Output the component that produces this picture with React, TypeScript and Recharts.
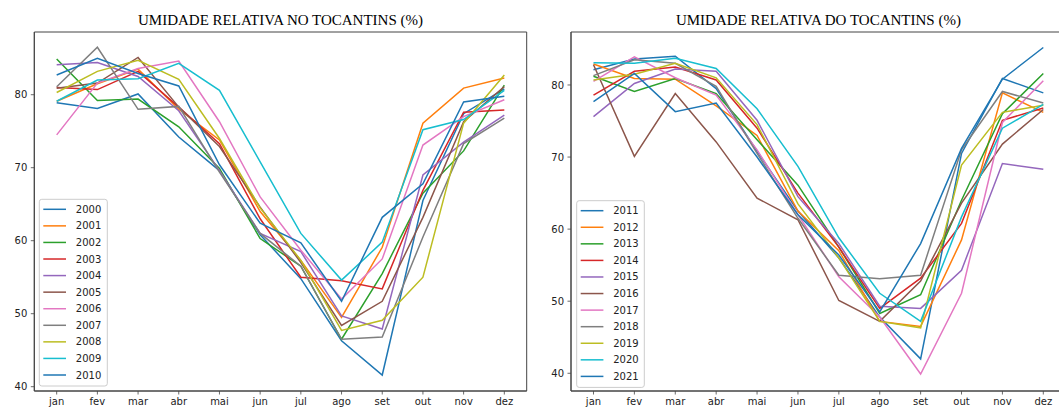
import React from "react";
import { LineChart, Line, XAxis, YAxis, ReferenceArea } from "recharts";

const months = ["jan", "fev", "mar", "abr", "mai", "jun", "jul", "ago", "set", "out", "nov", "dez"];
const palette = ["#1f77b4", "#ff7f0e", "#2ca02c", "#d62728", "#9467bd", "#8c564b", "#e377c2", "#7f7f7f", "#bcbd22", "#17becf", "#1f77b4"];

const leftTitle = "UMIDADE RELATIVA NO TOCANTINS (%)";
const rightTitle = "UMIDADE RELATIVA DO TOCANTINS (%)";
const yTicks = [40, 50, 60, 70, 80];

const leftYears = ["2000", "2001", "2002", "2003", "2004", "2005", "2006", "2007", "2008", "2009", "2010"];
const y2000 = [78.9, 78.1, 80.1, 74.2, 69.6, 60.8, 54.8, 46.3, 41.6, 65.5, 77.4, 80.8];
const y2001 = [79.1, 81.5, 83.5, 78.0, 73.8, 64.0, 57.3, 49.5, 59.1, 76.1, 80.9, 82.3];
const y2002 = [84.9, 79.2, 79.4, 75.6, 69.9, 60.3, 56.5, 46.5, 55.5, 66.5, 72.3, 81.3];
const y2003 = [81.0, 80.7, 83.2, 78.3, 73.3, 63.0, 55.0, 54.5, 53.4, 66.9, 77.6, 77.9];
const y2004 = [84.1, 84.4, 82.5, 77.8, 69.6, 61.0, 58.5, 49.7, 47.9, 69.0, 73.5, 77.2];
const y2005 = [80.9, 81.6, 85.1, 78.3, 72.9, 64.6, 57.0, 48.4, 51.7, 63.2, 76.3, 81.1];
const y2006 = [74.5, 81.6, 83.6, 84.6, 76.3, 66.0, 58.7, 52.0, 57.5, 73.1, 77.0, 79.3];
const y2007 = [81.1, 86.5, 78.0, 78.4, 69.4, 61.0, 56.5, 46.5, 46.8, 60.5, 73.3, 76.8];
const y2008 = [80.3, 83.2, 84.7, 82.1, 74.0, 64.5, 57.3, 47.7, 49.1, 55.0, 76.1, 82.7];
const y2009 = [79.1, 82.0, 82.2, 84.3, 80.6, 70.8, 61.0, 54.6, 59.8, 75.2, 76.6, 80.6];
const y2010 = [82.7, 85.0, 82.9, 81.2, 70.4, 62.4, 59.7, 51.7, 63.2, 67.8, 79.0, 79.8];
const leftSeries = [y2000, y2001, y2002, y2003, y2004, y2005, y2006, y2007, y2008, y2009, y2010];

const rightYears = ["2011", "2012", "2013", "2014", "2015", "2016", "2017", "2018", "2019", "2020", "2021"];
const y2011 = [82.1, 83.6, 84.0, 79.5, 70.8, 62.5, 56.0, 47.8, 42.0, 70.5, 80.9, 78.9];
const y2012 = [82.9, 80.9, 80.8, 77.1, 73.0, 62.5, 57.0, 47.2, 46.5, 58.5, 78.9, 76.2];
const y2013 = [81.2, 79.1, 80.9, 78.8, 72.4, 66.1, 57.5, 48.3, 50.9, 64.0, 76.0, 81.6];
const y2014 = [78.6, 81.9, 82.5, 80.7, 74.0, 65.0, 57.5, 49.0, 53.2, 60.8, 75.1, 76.8];
const y2015 = [75.6, 80.2, 82.2, 81.9, 75.1, 64.5, 58.0, 49.3, 49.0, 54.3, 69.1, 68.3];
const y2016 = [82.8, 70.1, 78.8, 72.1, 64.3, 61.3, 50.1, 47.2, 52.8, 63.6, 71.8, 76.6];
const y2017 = [80.5, 83.9, 81.0, 78.6, 71.0, 62.0, 53.4, 47.8, 39.9, 51.1, 74.8, 80.6];
const y2018 = [81.3, 83.5, 83.0, 79.8, 70.5, 61.5, 53.6, 53.1, 53.6, 71.0, 79.1, 77.5];
const y2019 = [80.7, 81.5, 83.0, 81.0, 74.5, 63.5, 56.0, 47.2, 46.3, 68.9, 76.2, 77.2];
const y2020 = [83.1, 83.0, 83.7, 82.3, 76.7, 68.7, 58.8, 51.1, 47.2, 61.7, 74.0, 77.3];
const y2021 = [77.7, 81.6, 76.3, 77.5, 70.0, 62.0, 56.4, 48.5, 58.0, 71.2, 80.8, 85.2];
const rightSeries = [y2011, y2012, y2013, y2014, y2015, y2016, y2017, y2018, y2019, y2020, y2021];

const monthIdx = months.map((_, i) => i);
const xDomain: [number, number] = [-0.55, 11.55];
const spine = "#444";
const tickFont = { fill: "#222", fontSize: 10, fontFamily: "DejaVu Sans" };

type PanelProps = {
  left: number;
  width: number;
  yAxisWidth: number;
  marginRight: number;
  yDomain: [number, number];
  years: string[];
  series: number[][];
};

function Panel({ left, width, yAxisWidth, marginRight, yDomain, years, series }: PanelProps) {
  const data = months.map((m, i) => {
    const row: Record<string, number | string> = { i, m };
    years.forEach((y, k) => {
      row[y] = series[k][i];
    });
    return row;
  });
  return (
    <div style={{ position: "absolute", left, top: 0 }}>
      <LineChart width={width} height={410} data={data} margin={{ top: 32, right: marginRight, bottom: 0, left: 0 }}>
        <XAxis
          dataKey="i"
          type="number"
          domain={xDomain}
          ticks={monthIdx}
          interval={0}
          allowDataOverflow
          tickFormatter={(v: number) => months[v]}
          height={19}
          tickSize={3.5}
          tickMargin={3.5}
          axisLine={{ stroke: spine, strokeWidth: 1 }}
          tickLine={{ stroke: spine, strokeWidth: 0.8 }}
          tick={tickFont}
        />
        <YAxis
          type="number"
          domain={yDomain}
          allowDataOverflow
          ticks={yTicks}
          interval={0}
          width={yAxisWidth}
          tickSize={3.5}
          tickMargin={3.5}
          axisLine={{ stroke: spine, strokeWidth: 1 }}
          tickLine={{ stroke: spine, strokeWidth: 0.8 }}
          tick={tickFont}
        />
        <ReferenceArea
          x1={xDomain[0]}
          x2={xDomain[1]}
          y1={yDomain[0]}
          y2={yDomain[1]}
          fill="none"
          fillOpacity={0}
          stroke={spine}
          strokeWidth={1}
          ifOverflow="visible"
        />
        {years.map((y, k) => (
          <Line
            key={y}
            dataKey={y}
            type="linear"
            stroke={palette[k]}
            strokeWidth={1.5}
            dot={false}
            activeDot={false}
            isAnimationActive={false}
          />
        ))}
      </LineChart>
    </div>
  );
}

function LegendBox({ x, y, w, years }: { x: number; y: number; w: number; years: string[] }) {
  const rowH = 16.57;
  const h = 186.7;
  return (
    <g>
      <rect x={x} y={y} width={w} height={h} rx={2.5} ry={2.5} fill="#fff" fillOpacity={0.8} stroke="#cccccc" strokeWidth={1} />
      {years.map((yr, k) => {
        const cy = y + 10 + k * rowH;
        return (
          <g key={yr}>
            <line x1={x + 4} x2={x + 26.7} y1={cy} y2={cy} stroke={palette[k]} strokeWidth={1.5} />
            <text x={x + 36.5} y={cy} dy="0.35em" fontFamily="DejaVu Sans" fontSize={10} fill="#222">
              {yr}
            </text>
          </g>
        );
      })}
    </g>
  );
}

export default function App() {
  return (
    <div style={{ position: "absolute", left: 0, top: 0, width: 1059, height: 410, overflow: "hidden", background: "#fff" }}>
      <Panel left={0} width={530} yAxisWidth={34.3} marginRight={3.3} yDomain={[39.41, 88.59]} years={leftYears} series={leftSeries} />
      <Panel left={539} width={530} yAxisWidth={32} marginRight={3.2} yDomain={[37.54, 87.35]} years={rightYears} series={rightSeries} />
      <svg width={1059} height={410} style={{ position: "absolute", left: 0, top: 0, pointerEvents: "none" }}>
        <text x={280.5} y={25} textAnchor="middle" fontFamily="Liberation Serif" fontSize={15} fill="#000">
          {leftTitle}
        </text>
        <text x={818.4} y={25} textAnchor="middle" fontFamily="Liberation Serif" fontSize={15} fill="#000">
          {rightTitle}
        </text>
        <LegendBox x={39.3} y={199.3} w={68} years={leftYears} />
        <LegendBox x={576.7} y={200.7} w={67.6} years={rightYears} />
      </svg>
    </div>
  );
}
